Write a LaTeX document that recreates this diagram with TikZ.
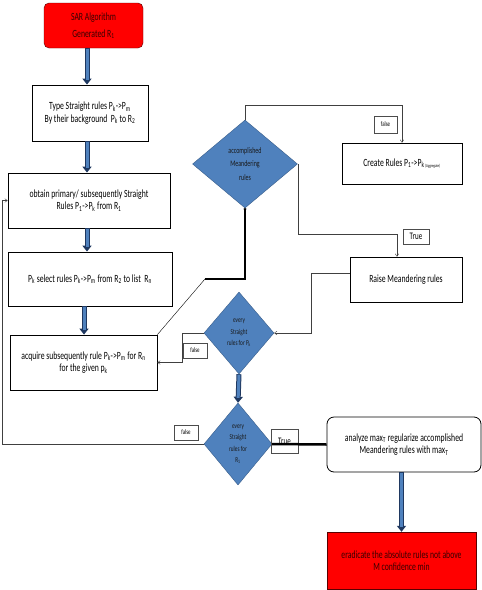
\documentclass[tikz,border=0pt]{standalone}
\usepackage{fontspec}
\setmainfont{Carlito}[FakeStretch=0.7]
\usetikzlibrary{shapes.geometric,arrows.meta}

\definecolor{flowred}{RGB}{255,0,0}
\definecolor{flowredtext}{RGB}{55,0,0}
\definecolor{flowblue}{RGB}{79,129,189}
\definecolor{flowbluedark}{RGB}{56,93,138}
\definecolor{arrowdark}{RGB}{31,56,96}

\begin{document}
\begin{tikzpicture}[x=1pt, y=-1pt,
  box/.style={
    shape=rectangle,
    align=center,
    font=\fontsize{11}{12.5}\selectfont,
    thick,
    draw=black,
    fill=white,
    inner sep=2pt,
  },
  redbox/.style={box, thin, draw=red!35!black, fill=flowred, text=flowredtext},
  decision/.style={
    shape=diamond,
    align=center,
    inner sep=0pt,
    font=\fontsize{7.5}{11.5}\selectfont,
    draw=flowbluedark,
    fill=flowblue,
    text=black!90,
  },
  tag/.style={shape=rectangle, thin, draw=black!70, fill=white, inner sep=1pt,
    font=\fontsize{7}{8}\selectfont},
  bluearrow/.style={line width=5pt, draw=arrowdark, -{Triangle[length=6pt,width=9pt]},
    postaction={draw=flowblue, line width=3pt, -, shorten >=5pt, shorten <=0.5pt}},
]
\useasboundingbox (0,0) rectangle (482,590);

\node[redbox, rounded corners=5pt, minimum width=99pt, minimum height=45pt,
  font=\fontsize{11}{17}\selectfont] (start) at (93.5,25.5)
  {SAR Algorithm\\Generated R\textsubscript{1}};
\node[box, minimum width=116pt, minimum height=56pt] (type) at (90,113)
  {Type Straight rules P\textsubscript{k}->P\textsubscript{m}\\By their background~ P\textsubscript{k} to R\textsubscript{2}};
\node[box, minimum width=162pt, minimum height=55pt] (obtain) at (89,200.5)
  {obtain primary/ subsequently Straight\\Rules P\textsubscript{1}->P\textsubscript{k} from R\textsubscript{1}};
\node[box, minimum width=164pt, minimum height=54pt] (select) at (90,279)
  {P\textsubscript{k} select rules P\textsubscript{k}->P\textsubscript{m} from R\textsubscript{2} to list~ R\textsubscript{n}};
\node[box, minimum width=147pt, minimum height=55pt] (acquire) at (83.5,362.5)
  {acquire subsequently rule P\textsubscript{k}->P\textsubscript{m} for R\textsubscript{n}\\for the given p\textsubscript{k}};

\node[decision, minimum width=105pt, minimum height=88pt,
  font=\fontsize{8.5}{13.5}\selectfont] (accomp) at (245,164)
  {accomplished\\Meandering\\rules};
\node[box, minimum width=120pt, minimum height=41pt] (create) at (402,163.5)
  {Create Rules P\textsubscript{1}->P\textsubscript{k\,\fontsize{4.5}{5}\selectfont(Aggregate)}};
\node[box, minimum width=112pt, minimum height=45pt] (raise) at (406,279.5)
  {Raise Meandering rules};
\node[decision, minimum width=70pt, minimum height=82pt] (every1) at (239,333)
  {every\\Straight\\rules for P\textsubscript{k}};
\node[decision, minimum width=68pt, minimum height=82pt] (every2) at (238,444)
  {every\\Straight\\rules for\\R\textsubscript{1}};
\node[box, rounded corners=7pt, minimum width=154pt, minimum height=55pt] (analyze) at (404,444.5)
  {analyze max\textsubscript{T} regularize accomplished\\Meandering rules with max\textsubscript{T}};
\node[redbox, minimum width=149pt, minimum height=57pt] (finish) at (401.5,560.5)
  {eradicate the absolute rules not above\\M confidence min};

% branch labels
\node[tag, minimum width=23pt, minimum height=17pt] (tagcreate) at (385.5,124.5) {false};
\node[tag, minimum width=26pt, minimum height=15pt, font=\fontsize{10}{11}\selectfont] (tagraise) at (416,236.5) {True};
\node[tag, minimum width=24pt, minimum height=15pt] (tagacquire) at (195,350.5) {false};
\node[tag, minimum width=24pt, minimum height=15pt] (tagobtain) at (186,432.5) {false};
\node[tag, minimum width=27pt, minimum height=24pt, font=\fontsize{10}{11}\selectfont] (taganalyze) at (284.5,441) {True};

\coordinate (spine) at (87,0);
\coordinate (leftrail) at (2,0);
\coordinate (bend) at (205,279);

\draw[bluearrow] (start.south -| spine) -- (type.north -| spine);
\draw[bluearrow] (type.south -| spine) -- (obtain.north -| spine);
\draw[bluearrow] (obtain.south -| spine) -- (select.north -| spine);
\draw[bluearrow] ([xshift=-6pt]select.south) -- ([xshift=-6pt]select.south |- acquire.north);
\draw[bluearrow] (every1.south) -- (every2.north);
\draw[bluearrow] (analyze.south -| finish.north) -- (finish.north);

\begin{scope}[thin, draw=black!75, -{To[length=3pt,width=4pt]}]
  \draw (accomp.north) -- ++(0,-15) -| (create.north);
  \draw (accomp.east) -- (accomp.east |- 0,234) -| ([xshift=-9pt]raise.north);
  \draw ([yshift=6pt]raise.west) -- ++(-38,0) |- (every1.east);
  \draw (every1.west) -- ++(-22,0) |- (acquire.east);
  \draw (every2.west) -- (every2.west -| leftrail) |- (obtain.west);
\end{scope}

\draw[line width=2.5pt] (every2.east) -- (analyze.west);
\draw[thin] (acquire.north east) -- (bend);
\draw[line width=2.2pt, -{To[length=2pt,width=3pt]}] (bend) -- (bend -| accomp.south) -- (accomp.south);

\end{tikzpicture}
\end{document}
